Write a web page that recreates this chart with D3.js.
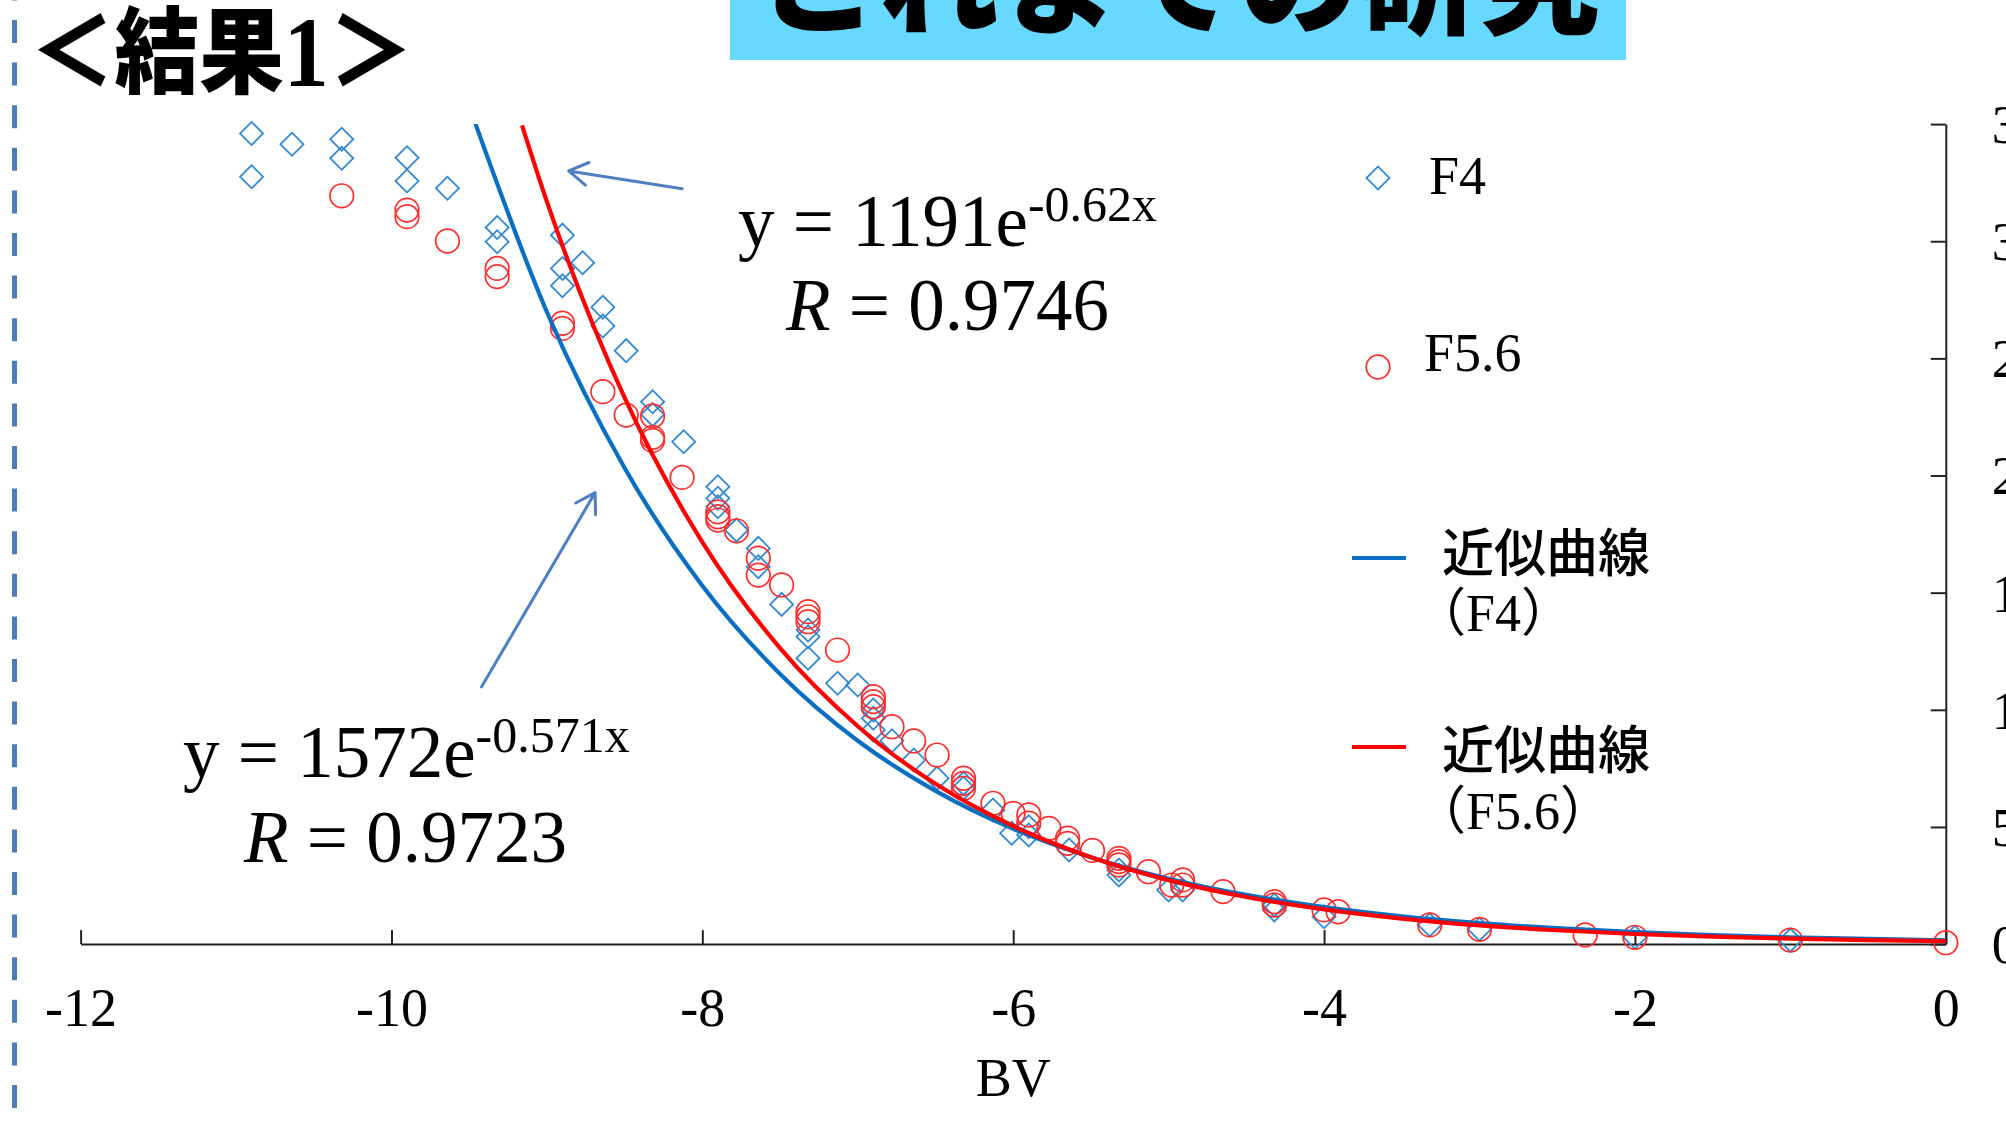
<!DOCTYPE html>
<html>
<head>
<meta charset="utf-8">
<script src="https://cdn.jsdelivr.net/npm/d3@7"></script>
<style>
  html, body { margin: 0; padding: 0; background: #ffffff; }
  svg { display: block; }
</style>
</head>
<body>
<svg id="chart" width="2006" height="1124"></svg>
<script>
// ---------------- data ----------------
const f4X = [-10.90,-10.90,-10.64,-10.32,-10.32,-9.90,-9.90,-9.64,-9.32,-9.32,-8.90,-8.90,-8.77,-8.90,-8.64,-8.64,-8.49,-8.32,-8.32,-8.12,-7.90,-7.90,-7.90,-7.78,-7.64,-7.64,-7.49,-7.32,-7.32,-7.32,-7.13,-7.00,-6.90,-6.90,-6.90,-6.78,-6.64,-6.49,-6.32,-6.32,-6.13,-6.01,-5.90,-5.90,-5.64,-5.32,-5.32,-5.00,-4.91,-4.32,-4.32,-4.00,-3.32,-3.00,-2.00,-1.00];
const f4Y = [346.0,327.5,341.4,343.5,335.4,335.6,325.7,322.6,305.9,299.8,302.6,288.4,290.8,281.0,271.8,263.8,253.3,231.5,226.0,214.4,195.2,190.3,186.7,176.7,168.9,161.1,145.0,134.1,131.2,122.0,111.3,110.6,99.9,96.4,91.4,86.8,78.6,70.8,68.6,66.5,57.2,47.3,50.1,46.6,40.2,31.6,29.5,23.1,23.1,16.7,14.6,11.7,8.2,6.3,2.9,1.7];

const f56X = [-10.32,-9.90,-9.90,-9.64,-9.32,-9.32,-8.90,-8.90,-8.64,-8.49,-8.32,-8.32,-8.32,-8.13,-7.90,-7.90,-7.90,-7.78,-7.64,-7.64,-7.49,-7.32,-7.32,-7.32,-7.13,-6.90,-6.90,-6.90,-6.78,-6.64,-6.49,-6.32,-6.32,-6.32,-6.13,-6.00,-5.90,-5.90,-5.77,-5.65,-5.65,-5.49,-5.32,-5.32,-5.32,-5.13,-4.98,-4.91,-4.91,-4.65,-4.32,-4.32,-4.00,-3.91,-3.32,-3.00,-2.32,-2.00,-1.00,0.00];
const f56Y = [319.4,313.3,310.5,300.1,288.4,284.9,265.0,262.8,235.8,225.8,225.4,216.3,215.0,199.2,184.5,182.4,181.0,176.4,164.7,157.5,153.3,141.9,139.7,137.6,125.5,105.6,103.5,101.3,92.8,86.7,80.7,70.8,68.6,66.5,60.1,55.8,55.1,51.6,49.4,45.2,43.0,40.0,36.6,35.2,33.8,30.9,25.2,27.4,25.2,22.4,18.1,16.7,14.6,13.8,8.2,6.3,3.9,2.9,1.7,0.6];

// approximation curves
const trendF4X  = [-9.46,-9,-8.5,-8,-7.5,-7,-6.5,-6,-5.5,-5,-4.5,-4,-3.5,-3,-2.5,-2,-1.5,-1,-0.5,0];
const trendF4Y  = [350.2,269.8,203.2,153.0,115.3,86.8,65.4,49.2,37.1,27.9,21.0,15.8,11.9,9.0,6.8,5.1,3.8,2.9,2.2,1.6];
const trendF56X = [-9.16,-9,-8.5,-8,-7.5,-7,-6.5,-6,-5.5,-5,-4.5,-4,-3.5,-3,-2.5,-2,-1.5,-1,-0.5,0];
const trendF56Y = [349.5,316.9,233.2,171.6,126.3,93.0,68.4,50.4,37.1,27.3,20.1,14.8,10.9,8.0,5.9,4.3,3.2,2.35,1.7,1.27];

const xTicks = [-12,-10,-8,-6,-4,-2,0];
const yTicks = [0,50,100,150,200,250,300,350];
const xLabel = "BV";
const seriesNames = ["F4", "F5.6"];
const trendNames = [["近似曲線", "（F4）"], ["近似曲線", "（F5.6）"]];
const eqF56 = { coef: "y = 1191e", exp: "-0.62x", r: " = 0.9746" };
const eqF4  = { coef: "y = 1572e", exp: "-0.571x", r: " = 0.9723" };
// annotation arrows in data units: [tailX, tailY, tipX, tipY]
const arrowF56 = [-8.13, 322.4, -8.86, 330.0];
const arrowF4  = [-9.42, 109.8, -8.69, 192.7];
const pageTitle = "これまでの研究";
const sectionTitle = ["＜結果", "1", "＞"];

// ---------------- drawing ----------------
const svg = d3.select("#chart");
const serif = "'Liberation Serif','Times New Roman',serif";
const cjk = "'Noto Sans CJK JP','Noto Sans CJK SC',sans-serif";
const BLUE_MARK = "#3489d0", RED_MARK = "#ff2f2f";
const BLUE_LINE = "#0a6fc2", RED_LINE = "#ff0000";
const ARROW = "#4f7fc0";

svg.append("rect").attr("width", 2006).attr("height", 1124).attr("fill", "#ffffff");

const x = d3.scaleLinear().domain([-12, 0]).range([80.6, 1945.8]);
const y = d3.scaleLinear().domain([0, 350]).range([944.1, 124.1]);

// left dashed guide line
svg.append("line")
  .attr("x1", 14.5).attr("x2", 14.5).attr("y1", -22.6).attr("y2", 1130)
  .attr("stroke", "#4a7ebb").attr("stroke-width", 5)
  .attr("stroke-dasharray", "23 19.6");

// cyan title box
svg.append("rect").attr("x", 730).attr("y", -10).attr("width", 896).attr("height", 70)
  .attr("fill", "#67d8fe");
svg.append("text").attr("x", 1179).attr("y", 25)
  .attr("text-anchor", "middle").attr("font-family", cjk).attr("font-weight", 900)
  .attr("font-size", 120).attr("fill", "#000").text(pageTitle);

// section title (slightly condensed, as in the slide)
const st = svg.append("text").attr("transform", "translate(30,86) scale(0.9,1)")
  .attr("font-family", cjk).attr("font-weight", 900).attr("font-size", 94).attr("fill", "#000");
st.append("tspan").text(sectionTitle[0]);
st.append("tspan").attr("font-family", serif).attr("font-weight", 700).attr("font-size", 100).text(sectionTitle[1]);
st.append("tspan").text(sectionTitle[2]);

// axes
const xAxis = d3.axisBottom(x).tickValues(xTicks).tickSizeInner(-14).tickSizeOuter(0)
  .tickFormat(d => String(d));
const gx = svg.append("g").attr("transform", `translate(0,${y(0)})`).call(xAxis);
gx.select(".domain").attr("stroke", "#222").attr("stroke-width", 2);
gx.selectAll(".tick line").attr("stroke", "#222").attr("stroke-width", 2);
gx.selectAll(".tick text").attr("y", 82).attr("dy", 0)
  .attr("font-family", serif).attr("font-size", 54).attr("fill", "#000");

const yAxis = d3.axisRight(y).tickValues(yTicks).tickSizeInner(-15).tickSizeOuter(0)
  .tickFormat(d => String(d));
const gy = svg.append("g").attr("transform", `translate(${x(0)},0)`).call(yAxis);
gy.select(".domain").attr("stroke", "#222").attr("stroke-width", 2);
gy.selectAll(".tick line").attr("stroke", "#222").attr("stroke-width", 2);
gy.selectAll(".tick text").attr("x", 46).attr("dy", "0.34em").attr("text-anchor", "start")
  .attr("font-family", serif).attr("font-size", 54).attr("fill", "#000");

svg.append("text").attr("x", x(-6)).attr("y", 1096).attr("text-anchor", "middle")
  .attr("font-family", serif).attr("font-size", 54).attr("fill", "#000").text(xLabel);

// clip for plot
svg.append("clipPath").attr("id", "plotclip").append("rect")
  .attr("x", x(-12)).attr("y", y(350)).attr("width", x(0) - x(-12) + 20).attr("height", y(0) - y(350) + 20);

const plot = svg.append("g");

// F4 diamonds
const diamond = d3.symbol().type(d3.symbolSquare).size(265);
plot.append("g").selectAll("path").data(f4X.map((v, i) => [v, f4Y[i]])).join("path")
  .attr("d", diamond)
  .attr("transform", d => `translate(${x(d[0])},${y(d[1])}) rotate(45)`)
  .attr("fill", "none").attr("stroke", BLUE_MARK).attr("stroke-width", 1.8);

// F5.6 circles
plot.append("g").selectAll("circle").data(f56X.map((v, i) => [v, f56Y[i]])).join("circle")
  .attr("cx", d => x(d[0])).attr("cy", d => y(d[1])).attr("r", 11.8)
  .attr("fill", "none").attr("stroke", RED_MARK).attr("stroke-width", 1.7);

// curves
const line = d3.line().x(d => x(d[0])).y(d => y(d[1])).curve(d3.curveMonotoneX);
plot.append("path").attr("clip-path", "url(#plotclip)")
  .attr("d", line(trendF4X.map((v, i) => [v, trendF4Y[i]])))
  .attr("fill", "none").attr("stroke", BLUE_LINE).attr("stroke-width", 4.2);
plot.append("path").attr("clip-path", "url(#plotclip)")
  .attr("d", line(trendF56X.map((v, i) => [v, trendF56Y[i]])))
  .attr("fill", "none").attr("stroke", RED_LINE).attr("stroke-width", 4.2);

// arrows
function arrow(a) {
  const x1 = x(a[0]), y1 = y(a[1]), x2 = x(a[2]), y2 = y(a[3]);
  const ang = Math.atan2(y2 - y1, x2 - x1);
  const L = 22, W = 0.55;
  const p = d3.path();
  p.moveTo(x1, y1); p.lineTo(x2, y2);
  p.moveTo(x2 - L * Math.cos(ang - W), y2 - L * Math.sin(ang - W));
  p.lineTo(x2, y2);
  p.lineTo(x2 - L * Math.cos(ang + W), y2 - L * Math.sin(ang + W));
  svg.append("path").attr("d", p.toString()).attr("fill", "none")
    .attr("stroke", ARROW).attr("stroke-width", 3).attr("stroke-linecap", "round").attr("stroke-linejoin", "round");
}
arrow(arrowF56);
arrow(arrowF4);

// equations
function equation(eq, x0, yb, xr, ybr) {
  const t = svg.append("text").attr("x", x0).attr("y", yb)
    .attr("font-family", serif).attr("font-size", 73).attr("fill", "#000");
  t.append("tspan").text(eq.coef);
  t.append("tspan").attr("font-size", 50).attr("dy", -25).text(eq.exp);
  const r = svg.append("text").attr("x", xr).attr("y", ybr)
    .attr("font-family", serif).attr("font-size", 73).attr("fill", "#000");
  r.append("tspan").attr("font-style", "italic").text("R");
  r.append("tspan").text(eq.r);
}
equation(eqF56, 738, 246, 786, 330);
equation(eqF4, 183, 777, 244, 862);

// legend
const lg = svg.append("g");
lg.append("path").attr("d", diamond).attr("transform", "translate(1378,178) rotate(45)")
  .attr("fill", "none").attr("stroke", BLUE_MARK).attr("stroke-width", 1.8);
lg.append("text").attr("x", 1429).attr("y", 194).attr("font-family", serif).attr("font-size", 54)
  .text(seriesNames[0]);
lg.append("circle").attr("cx", 1378).attr("cy", 367).attr("r", 11.8)
  .attr("fill", "none").attr("stroke", RED_MARK).attr("stroke-width", 1.7);
lg.append("text").attr("x", 1424).attr("y", 371).attr("font-family", serif).attr("font-size", 54)
  .text(seriesNames[1]);

function trendLegend(names, color, ly, yb1, yb2) {
  lg.append("line").attr("x1", 1352).attr("x2", 1406).attr("y1", ly).attr("y2", ly)
    .attr("stroke", color).attr("stroke-width", 4.2);
  lg.append("text").attr("x", 1442).attr("y", yb1).attr("font-family", cjk).attr("font-size", 52)
    .attr("font-weight", 500).text(names[0]);
  lg.append("text").attr("x", 1414).attr("y", yb2)
    .attr("font-family", "'Liberation Serif','Noto Sans CJK JP',serif").attr("font-size", 52)
    .text(names[1]);
}
trendLegend(trendNames[0], BLUE_LINE, 558, 572, 631);
trendLegend(trendNames[1], RED_LINE, 747, 769, 829);
</script>
</body>
</html>
